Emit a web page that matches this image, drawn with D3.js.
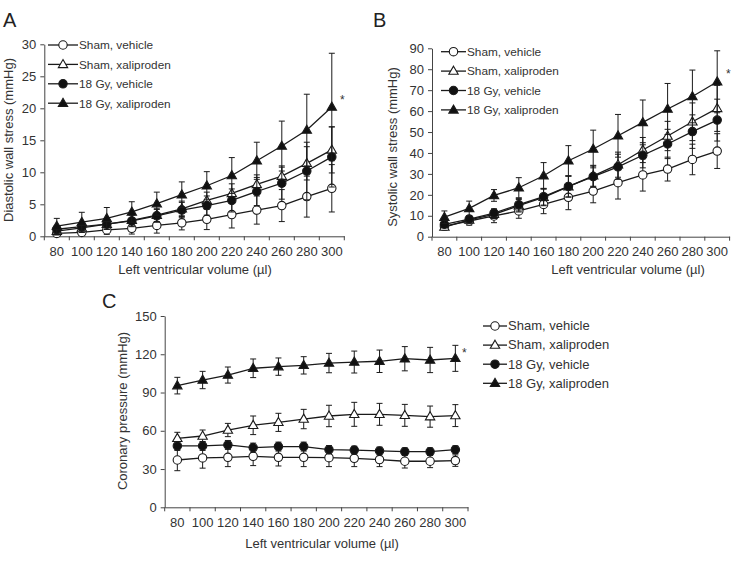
<!DOCTYPE html>
<html><head><meta charset="utf-8">
<script src="https://cdn.jsdelivr.net/npm/d3@7"></script>
<style>body{margin:0;background:#fff}svg{font-family:Arial,"Liberation Sans",sans-serif}</style>
</head><body><svg id="c" width="735" height="562"></svg>
<script>
const volumes = [80,100,120,140,160,180,200,220,240,260,280,300];
const seriesNames = ["Sham, vehicle","Sham, xaliproden","18 Gy, vehicle","18 Gy, xaliproden"];

// Panel A: diastolic wall stress
const aShamVeh = [0.45,0.6,1.0,1.25,1.7,2.1,2.65,3.4,4.1,4.8,6.2,7.5];
const aShamVehErr = [0.4,0.5,0.7,0.9,1.2,1.1,1.6,2.1,2.2,2.5,3.2,3.7];
const aShamXal = [0.8,1.3,1.9,2.5,3.3,4.3,5.6,6.7,8.1,9.4,11.4,13.5];
const aShamXalErr = [0.6,0.7,0.8,0.9,1.0,1.2,1.3,1.5,1.5,1.6,2.6,3.6];
const aGyVeh = [1.1,1.5,1.9,2.4,3.2,4.1,4.8,5.6,7.0,8.3,10.2,12.4];
const aGyVehErr = [0.6,0.6,0.8,0.9,1.0,1.2,1.5,1.8,2.2,2.5,4.5,4.7];
const aGyXal = [1.6,2.2,2.8,3.8,5.1,6.5,7.9,9.5,11.8,14.1,16.6,20.2];
const aGyXalErr = [1.2,1.55,1.7,1.6,1.8,2.0,2.2,2.8,2.9,3.9,5.6,8.4];
const aTicks = [0,5,10,15,20,25,30];

// Panel B: systolic wall stress
const bShamVeh = [5.0,7.5,9.9,12.3,15.4,18.8,21.8,25.8,29.5,32.3,36.9,40.9];
const bShamVehErr = [1.5,2.0,3.2,3.5,4.4,5.9,5.6,7.8,7.7,5.7,7.3,8.3];
const bShamXal = [4.6,8.0,10.7,14.8,18.8,23.9,29.1,34.4,41.4,48.1,54.9,61.3];
const bShamXalErr = [1.5,1.5,2,3,4,5,5,6,6,7,9,11];
const bGyVeh = [5.9,8.4,11.3,15.3,19.1,24.0,28.7,33.4,38.9,44.3,50.2,55.7];
const bGyVehErr = [1,1.5,2,3,4,5,5,6,6,7,8,10];
const bGyXal = [9.3,13.5,19.7,23.4,29.1,36.3,41.9,48.2,54.6,61.0,67.0,74.0];
const bGyXalErr = [3,3.5,2.8,4.8,6.3,7.2,9,10.2,10.7,12.2,12.6,14.8];
const bTicks = [0,10,20,30,40,50,60,70,80,90];

// Panel C: coronary pressure
const cShamVeh = [37.1,38.7,39.2,40.0,39.2,39.2,38.9,38.4,37.4,36.1,36.1,36.6];
const cShamVehErr = [8.4,8,7.3,7.3,6.8,7.3,7,6.5,5.5,5.3,5,4.5];
const cShamXal = [54.1,55.9,60.6,64.3,66.6,69.2,71.6,72.9,72.9,72.1,71.1,71.9];
const cShamXalErr = [4.7,4.7,5.2,7.3,7.1,7.6,8.4,9.4,8.6,8.6,8.3,8.6];
const cGyVeh = [48.1,48.1,48.9,46.8,47.6,47.6,45.2,44.9,44.2,43.6,43.6,45.2];
const cGyVehErr = [3.5,3.5,3.5,3.5,3.5,3.5,3.2,3,3,3,3,3];
const cGyXal = [95.4,99.8,103.7,109.0,110.3,111.3,113.1,113.9,114.5,116.5,115.5,116.8];
const cGyXalErr = [6.5,6.8,6.3,7.3,6.8,6.8,7.6,8.6,8.8,9.5,9.9,10.2];
const cTicks = [0,30,60,90,120,150];

const markerKinds = [{shape:"circle",fill:"#fff"},{shape:"triangle",fill:"#fff"},{shape:"circle",fill:"#111"},{shape:"triangle",fill:"#111"}];
const svg = d3.select("#c");
const INK = "#1a1a1a", TXT = "#333", FS = 13;

function marker(g, kind, cx, cy){
  if(kind.shape==="circle"){
    g.append("circle").attr("cx",cx).attr("cy",cy).attr("r",4.2)
      .attr("fill",kind.fill).attr("stroke",INK).attr("stroke-width",1.1);
  } else {
    g.append("path").attr("d",d3.symbol(d3.symbolTriangle,38)())
      .attr("transform",`translate(${cx},${cy+0.5})`)
      .attr("fill",kind.fill).attr("stroke",INK).attr("stroke-width",1.1);
  }
}

function panel(o){
  const x = d3.scaleBand().domain(volumes).range([o.x0,o.x1]);
  const y = d3.scaleLinear().domain([0,o.ymax]).range([o.y0,o.y1]);
  const g = svg.append("g");
  const ya = g.append("g").attr("transform",`translate(${o.x0},0)`)
    .call(d3.axisLeft(y).tickValues(o.ticks).tickSize(4).tickSizeOuter(0).tickPadding(4));
  ya.selectAll("path,line").attr("stroke","#444");
  ya.selectAll("text").attr("font-size",FS).attr("fill",TXT).attr("font-family","Arial,'Liberation Sans',sans-serif");
  const xa = g.append("g").attr("transform",`translate(0,${o.y0})`)
    .call(d3.axisBottom(x).tickSize(0).tickPadding(10));
  xa.select("path").attr("stroke","#444");
  xa.selectAll("text").attr("font-size",FS).attr("fill",TXT).attr("font-family","Arial,'Liberation Sans',sans-serif");
  const bounds = volumes.map(v=>x(v)).concat([x(volumes[volumes.length-1])+x.bandwidth()]);
  xa.selectAll("line.bt").data(bounds).enter().append("line").attr("class","bt")
    .attr("x1",d=>d).attr("x2",d=>d).attr("y1",0).attr("y2",4).attr("stroke","#444");
  g.append("text").attr("transform",`translate(${o.ytx},${o.ytc}) rotate(-90)`)
    .attr("text-anchor","middle").attr("font-size",FS).attr("fill",TXT).text(o.ytitle);
  g.append("text").attr("x",o.xtc).attr("y",o.xty)
    .attr("text-anchor","middle").attr("font-size",FS).attr("fill",TXT).text("Left ventricular volume (µl)");
  g.append("text").attr("x",o.lx).attr("y",o.ly).attr("font-size",20).attr("fill","#222").text(o.label);
  const cx = v => x(v)+x.bandwidth()/2;
  o.series.forEach((s,i)=>{
    const sg = g.append("g");
    const pts = volumes.map((v,j)=>[cx(v), y(s.v[j])]);
    volumes.forEach((v,j)=>{
      const lo = y(s.v[j]-s.e[j]), hi = y(s.v[j]+s.e[j]), xx = cx(v);
      sg.append("line").attr("x1",xx).attr("x2",xx).attr("y1",lo).attr("y2",hi).attr("stroke",INK).attr("stroke-width",1);
      [lo,hi].forEach(yy=>sg.append("line").attr("x1",xx-3).attr("x2",xx+3).attr("y1",yy).attr("y2",yy).attr("stroke",INK).attr("stroke-width",1));
    });
    sg.append("path").attr("d",d3.line()(pts)).attr("fill","none").attr("stroke",INK).attr("stroke-width",1.3);
    pts.forEach(p=>marker(sg, markerKinds[i], p[0], p[1]));
  });
  g.append("text").attr("x",o.star[0]).attr("y",o.star[1]).attr("font-size",12).attr("fill","#333").text("*");
  seriesNames.forEach((n,i)=>{
    const ly = o.leg.y + i*o.leg.dy;
    g.append("line").attr("x1",o.leg.x).attr("x2",o.leg.x+o.leg.w).attr("y1",ly).attr("y2",ly).attr("stroke",INK).attr("stroke-width",1.3);
    marker(g, markerKinds[i], o.leg.x+o.leg.w/2, ly);
    g.append("text").attr("x",o.leg.x+o.leg.w+1).attr("y",ly+4.3).attr("font-size",o.leg.fs).attr("fill",TXT).text(n);
  });
}

panel({x0:44.3,x1:344.3,y0:236.3,y1:44.3,ymax:30,ticks:aTicks,ytitle:"Diastolic wall stress (mmHg)",ytx:13,ytc:140,xtc:195,xty:274,
  label:"A",lx:3,ly:27,star:[340,104],leg:{x:48,y:45,dy:19.4,w:30,fs:11.8},
  series:[{v:aShamVeh,e:aShamVehErr},{v:aShamXal,e:aShamXalErr},{v:aGyVeh,e:aGyVehErr},{v:aGyXal,e:aGyXalErr}]});
panel({x0:432,x1:729.6,y0:236.7,y1:48.3,ymax:90,ticks:bTicks,ytitle:"Systolic wall stress (mmHg)",ytx:397,ytc:147,xtc:628,xty:274,
  label:"B",lx:373,ly:27,star:[726,78],leg:{x:441,y:51.7,dy:19.4,w:25,fs:11.8},
  series:[{v:bShamVeh,e:bShamVehErr},{v:bShamXal,e:bShamXalErr},{v:bGyVeh,e:bGyVehErr},{v:bGyXal,e:bGyXalErr}]});
panel({x0:164.7,x1:468,y0:507.3,y1:316,ymax:150,ticks:cTicks,ytitle:"Coronary pressure (mmHg)",ytx:127,ytc:411,xtc:322,xty:548,
  label:"C",lx:102,ly:308,star:[462,357],leg:{x:483,y:326,dy:19.1,w:24,fs:13},
  series:[{v:cShamVeh,e:cShamVehErr},{v:cShamXal,e:cShamXalErr},{v:cGyVeh,e:cGyVehErr},{v:cGyXal,e:cGyXalErr}]});
</script></body></html>
